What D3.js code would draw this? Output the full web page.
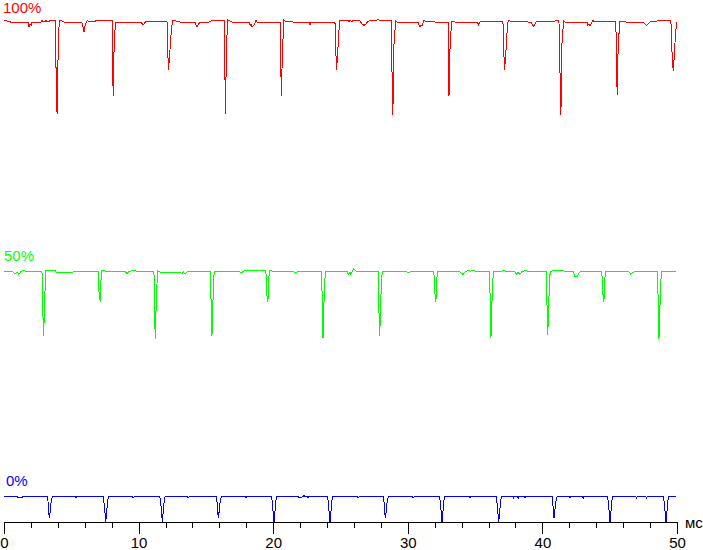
<!DOCTYPE html>
<html>
<head>
<meta charset="utf-8">
<script src="https://cdn.jsdelivr.net/npm/d3@7/dist/d3.min.js"></script>
<style>
  html, body { margin: 0; padding: 0; background: #fff; }
  svg { display: block; }
  text { font-family: "Liberation Sans", Arial, sans-serif; }
</style>
</head>
<body>
<script>
// ---- data (time in ms, relative brightness in %) ----
const seriesNames = ["100%", "50%", "0%"];
const seriesColors = ["#ff0000", "#00ff00", "#0000ff"];
const majorTicks = [0, 10, 20, 30, 40, 50];
const minorTicks = [2, 4, 6, 8, 12, 14, 16, 18, 22, 24, 26, 28, 32, 34, 36, 38, 42, 44, 46, 48];
const unitLabel = "мс";

const redTrace = [
  [0,100.3],[0.22,100.3],[0.26,100.1],[0.45,100.1],[0.48,100],[1.78,100],[1.86,99.0],[1.93,99.5],[2.01,99.3],[2.08,100],
  [2.75,100],[2.82,100.3],[2.97,100],[3.12,100.3],[3.27,100],[3.42,100.3],[3.84,100.3],
  [3.86,90.6],[3.91,87.8],[3.94,80.6],[3.98,85.7],[4.03,95.2],[4.11,100.4],
  [4.31,100.2],[4.46,100],[5.77,100],[5.87,99.0],[5.94,97.9],[6.02,99.2],[6.17,100.3],[6.39,100],[6.76,100.2],[7.13,100.3],[8.06,100.3],
  [8.08,90.6],[8.11,84.4],[8.16,92.7],[8.20,95.8],[8.28,100],
  [10.18,100],[10.33,99.4],[10.51,100],[11.0,100.1],[12.11,100.1],
  [12.13,97.7],[12.21,89.9],[12.29,92.4],[12.42,97.7],[12.52,100.4],
  [12.63,100.3],[13.08,100],[14.19,100],[14.26,99.4],[14.34,99.0],[14.41,99.4],[14.56,100],[15.23,100],[15.30,100.2],[16.05,100.3],[16.37,100.3],
  [16.39,90.6],[16.42,87.8],[16.45,80.6],[16.48,85.7],[16.53,95.2],[16.63,100.4],
  [16.79,100.2],[16.94,100],[18.20,100],[18.28,99.3],[18.35,99.5],[18.42,99.0],[18.57,99.3],[18.72,100.3],[18.80,100],[20.54,100],
  [20.56,90.6],[20.62,84.4],[20.67,92.7],[20.72,95.8],[20.80,100.4],
  [20.95,100.1],[21.47,100],[22.66,100],[22.73,99.4],[22.81,100],[24.59,100],
  [24.61,97.7],[24.70,89.9],[24.77,92.4],[24.87,97.7],[24.96,100.4],
  [25.56,100.4],[25.63,100.1],[25.70,100.4],[25.85,100.1],[25.93,100.4],[26.45,100.2],[26.60,99.6],[26.75,99.3],[26.89,99.6],[27.04,100.2],
  [27.64,100.3],[27.79,100.5],[27.93,100.3],[28.79,100.3],
  [28.81,90.6],[28.85,87.8],[28.88,80.5],[28.93,85.7],[28.97,95.2],[29.10,100.2],
  [29.20,100],[30.76,100],[30.83,99.4],[30.91,99.0],[30.98,99.4],[31.05,99.2],[31.20,100.4],[31.35,100.1],[31.50,100.2],[32.02,100],[32.99,100],
  [33.01,90.6],[33.06,84.4],[33.11,92.7],[33.16,95.8],[33.26,100.2],
  [33.36,100.2],[33.51,100],[35.14,100],[35.24,99.4],[35.36,100],[35.51,100.2],[37.07,100.2],
  [37.09,97.7],[37.18,89.9],[37.26,92.4],[37.37,97.7],[37.46,100.4],
  [37.59,100.2],[38.71,100.2],[38.93,100],[39.15,100],[39.23,99.5],[39.32,99.0],[39.45,99.6],[39.52,100],[40.41,100.1],[40.94,100.2],[41.23,100.3],
  [41.29,90.6],[41.33,87.8],[41.37,80.4],[41.41,85.7],[41.45,95.2],[41.57,100.2],
  [41.68,100],[43.31,100],[43.38,99.3],[43.46,99.6],[43.53,99.2],[43.61,99.6],[43.76,100.3],[43.90,100],[45.46,100.1],
  [45.50,90.6],[45.56,84.6],[45.61,92.7],[45.66,95.8],[45.74,100.2],
  [45.91,100.2],[46.21,100],[47.47,100],[47.62,99.6],[47.74,99.2],[47.84,99.6],[47.99,100],[48.73,100.3],[49.03,100.4],[49.25,100.3],[49.40,100.4],[49.55,100.3],
  [49.57,97.7],[49.65,92.4],[49.72,89.6],[49.79,92.4],[49.87,96.6],[49.97,100]
];

const greenTrace = [
  [0,47.5],[0.59,47.5],[0.82,46.9],[0.97,47.3],[1.11,46.8],[1.26,47.4],[1.41,47.6],[1.63,47.5],[2.82,47.5],
  [2.86,44.3],[2.90,37.4],[2.94,33.8],[3.02,40.6],[3.06,44.5],[3.12,47.7],
  [3.79,47.7],[3.86,47.3],[4.90,47.3],[5.05,47.1],[5.20,47.5],[5.94,47.5],[6.99,47.5],
  [7.01,45.2],[7.08,42.3],[7.15,41.1],[7.21,45.8],[7.28,47.7],
  [7.43,47.7],[7.58,47.4],[8.99,47.4],[9.14,47.0],[9.29,47.4],[9.58,47.6],[9.88,47.5],[11.14,47.5],
  [11.16,44.3],[11.20,37.4],[11.24,33.3],[11.31,40.6],[11.36,44.5],[11.42,47.5],
  [11.59,47.3],[13.07,47.3],[13.22,46.9],[13.33,47.3],[13.45,46.9],[13.60,47.3],[13.82,47.5],[15.34,47.5],
  [15.36,44.3],[15.41,37.4],[15.45,33.8],[15.52,40.6],[15.56,44.5],[15.62,47.5],
  [16.05,47.5],[16.26,47.4],[16.49,47.5],[17.38,47.5],[17.66,47.1],[17.76,47.5],[18.13,47.6],[19.46,47.6],
  [19.48,45.2],[19.54,42.3],[19.61,41.1],[19.66,45.8],[19.74,47.6],
  [20.13,47.4],[20.36,47.5],[21.47,47.5],[21.62,47.1],[21.84,47.4],[22.58,47.5],[23.60,47.5],
  [23.62,44.3],[23.66,37.4],[23.70,33.4],[23.77,40.6],[23.82,44.5],[23.88,47.5],
  [25.48,47.5],[25.58,46.8],[25.70,47.3],[25.78,46.8],[25.96,48.0],[26.15,47.5],[27.81,47.5],
  [27.82,44.3],[27.87,37.4],[27.91,33.8],[27.99,40.6],[28.03,44.5],[28.10,47.4],
  [29.87,47.4],[30.04,47.1],[30.24,47.4],[30.53,47.5],[31.94,47.5],
  [31.96,45.2],[32.03,42.3],[32.09,41.1],[32.15,45.8],[32.22,47.5],
  [32.89,47.5],[33.80,47.5],[33.95,47.1],[34.10,46.8],[34.25,47.3],[34.47,47.6],[34.69,47.5],[34.84,47.6],[35.07,47.5],[36.08,47.5],
  [36.10,44.3],[36.14,37.4],[36.18,33.4],[36.25,40.6],[36.30,44.5],[36.36,47.5],
  [36.85,47.4],[37.15,47.6],[37.37,47.4],[37.96,47.4],[38.07,46.8],[38.18,47.3],[38.33,46.8],[38.48,47.4],[38.71,47.6],[38.93,47.5],[39.30,47.5],[40.30,47.5],
  [40.32,44.3],[40.36,37.4],[40.40,34.0],[40.47,40.6],[40.52,44.5],[40.58,47.5],
  [41.30,47.6],[41.68,47.5],[42.27,47.5],[42.35,46.8],[42.42,46.3],[42.57,46.3],[42.72,47.1],[42.86,47.5],[44.42,47.5],
  [44.44,45.2],[44.51,42.3],[44.57,41.1],[44.63,45.8],[44.70,47.5],
  [45.17,47.4],[46.43,47.4],[46.56,46.8],[46.69,47.2],[46.88,47.4],[47.62,47.5],[48.56,47.5],
  [48.58,44.3],[48.62,37.4],[48.66,33.3],[48.74,40.6],[48.78,44.5],[48.85,47.5],
  [49.48,47.4],[49.92,47.4]
];

const blueTrace = [
  [0,0],[0.97,0],[1.04,-0.2],[1.34,-0.2],[1.41,0],
  [3.25,0],[3.29,-2.1],[3.37,-4.6],[3.42,-3.5],[3.47,-1.8],[3.54,-0.4],[3.62,0],
  [5.27,0],[5.35,-0.3],[5.42,0],
  [7.38,0],[7.45,-1.8],[7.56,-5.3],[7.63,-3.2],[7.70,-0.7],[7.78,0],
  [9.51,0],[9.61,-0.3],[9.70,0],
  [11.58,0],[11.66,-1.8],[11.76,-5.3],[11.83,-3.2],[11.91,-0.7],[11.98,0],
  [13.60,0],[13.69,-0.3],[13.78,0],
  [15.80,0],[15.85,-2.1],[15.92,-4.6],[15.97,-3.5],[16.02,-1.8],[16.10,-0.4],[16.17,0],
  [17.90,0],[17.98,-0.3],[18.05,0],
  [19.88,0],[19.95,-1.8],[20.06,-5.4],[20.13,-3.2],[20.21,-0.7],[20.28,0],
  [21.84,0],[21.92,-0.2],[22.06,-0.2],[22.21,0],[22.29,0.2],[22.36,0],[22.51,0],[22.58,-0.3],[22.66,0],
  [24.04,0],[24.11,-1.8],[24.22,-5.4],[24.29,-3.2],[24.37,-0.7],[24.44,0],
  [26.22,0],[26.32,-0.3],[26.41,0],
  [28.21,0],[28.25,-2.1],[28.33,-4.6],[28.38,-3.5],[28.43,-1.8],[28.50,-0.4],[28.58,0],
  [30.31,0],[30.41,-0.3],[30.50,0],
  [32.36,0],[32.44,-1.8],[32.54,-5.4],[32.61,-3.2],[32.69,-0.7],[32.76,0],
  [34.54,0],[34.62,-0.3],[34.69,0],
  [36.57,0],[36.65,-1.8],[36.75,-5.4],[36.83,-3.2],[36.90,-0.7],[36.97,0],
  [37.78,0],[37.84,-0.3],[37.89,0],[38.15,0],[38.21,-0.3],[38.26,0],[38.63,0],[38.71,-0.3],[38.78,0],
  [40.74,0],[40.79,-2.1],[40.86,-4.6],[40.91,-3.5],[40.96,-1.8],[41.04,-0.4],[41.11,0],
  [41.97,0],[42.05,-0.3],[42.12,0],[42.98,0],[43.04,-0.3],[43.09,0],
  [44.84,0],[44.92,-1.8],[45.02,-5.4],[45.09,-3.2],[45.17,-0.7],[45.24,0],
  [46.95,0],[47.00,-0.3],[47.06,0],[47.69,0],[47.75,-0.3],[47.80,0],
  [49.00,0],[49.07,-1.8],[49.18,-5.4],[49.25,-3.2],[49.33,-0.7],[49.40,0],
  [49.92,0]
];

const traces = [redTrace, greenTrace, blueTrace];
const labelLevels = [100, 47.5, 0];

// ---- drawing ----
const W = 703, H = 550;
const svg = d3.select("body").append("svg")
  .attr("width", W).attr("height", H)
  .style("background", "#fff");

const x = d3.scaleLinear().domain([0, 50]).range([4, 677]);
const y = d3.scaleLinear().domain([0, 100]).range([496.5, 22]);
const axisY = 522;

const line = d3.line().x(d => x(d[0])).y(d => y(d[1]));

traces.forEach((tr, i) => {
  svg.append("path")
    .datum(tr)
    .attr("d", line)
    .attr("fill", "none")
    .attr("stroke", seriesColors[i])
    .attr("stroke-width", 1)
    .attr("shape-rendering", "crispEdges");
});

const labelDx = [0, 1, 3];
const labelDy = [-9, -10, -10.5];
seriesNames.forEach((name, i) => {
  svg.append("text")
    .attr("x", x(0) - 1 + labelDx[i])
    .attr("y", y(labelLevels[i]) + labelDy[i])
    .attr("fill", seriesColors[i])
    .attr("font-size", 15)
    .text(name);
});

// axis
const minorAxis = d3.axisBottom(x).tickValues(minorTicks).tickSize(6).tickSizeOuter(0).tickFormat("");
const majorAxis = d3.axisBottom(x).tickValues(majorTicks).tickSize(12).tickSizeOuter(0).tickPadding(3).tickFormat(d3.format("d"));

const gMinor = svg.append("g").attr("transform", `translate(0,${axisY})`).call(minorAxis);
gMinor.select(".domain").remove();
const gMajor = svg.append("g").attr("transform", `translate(0,${axisY})`).call(majorAxis);
[gMinor, gMajor].forEach(g => {
  g.selectAll("line").attr("stroke", "#000").attr("shape-rendering", "crispEdges");
  g.selectAll("path").attr("stroke", "#000").attr("shape-rendering", "crispEdges");
});
gMajor.selectAll("text")
  .attr("fill", "#000")
  .style("font-family", '"Liberation Sans", Arial, sans-serif')
  .attr("font-size", 15);

svg.append("text")
  .attr("x", x(50) + 8)
  .attr("y", axisY + 6)
  .attr("fill", "#000")
  .attr("font-size", 15)
  .text(unitLabel);
</script>
</body>
</html>
